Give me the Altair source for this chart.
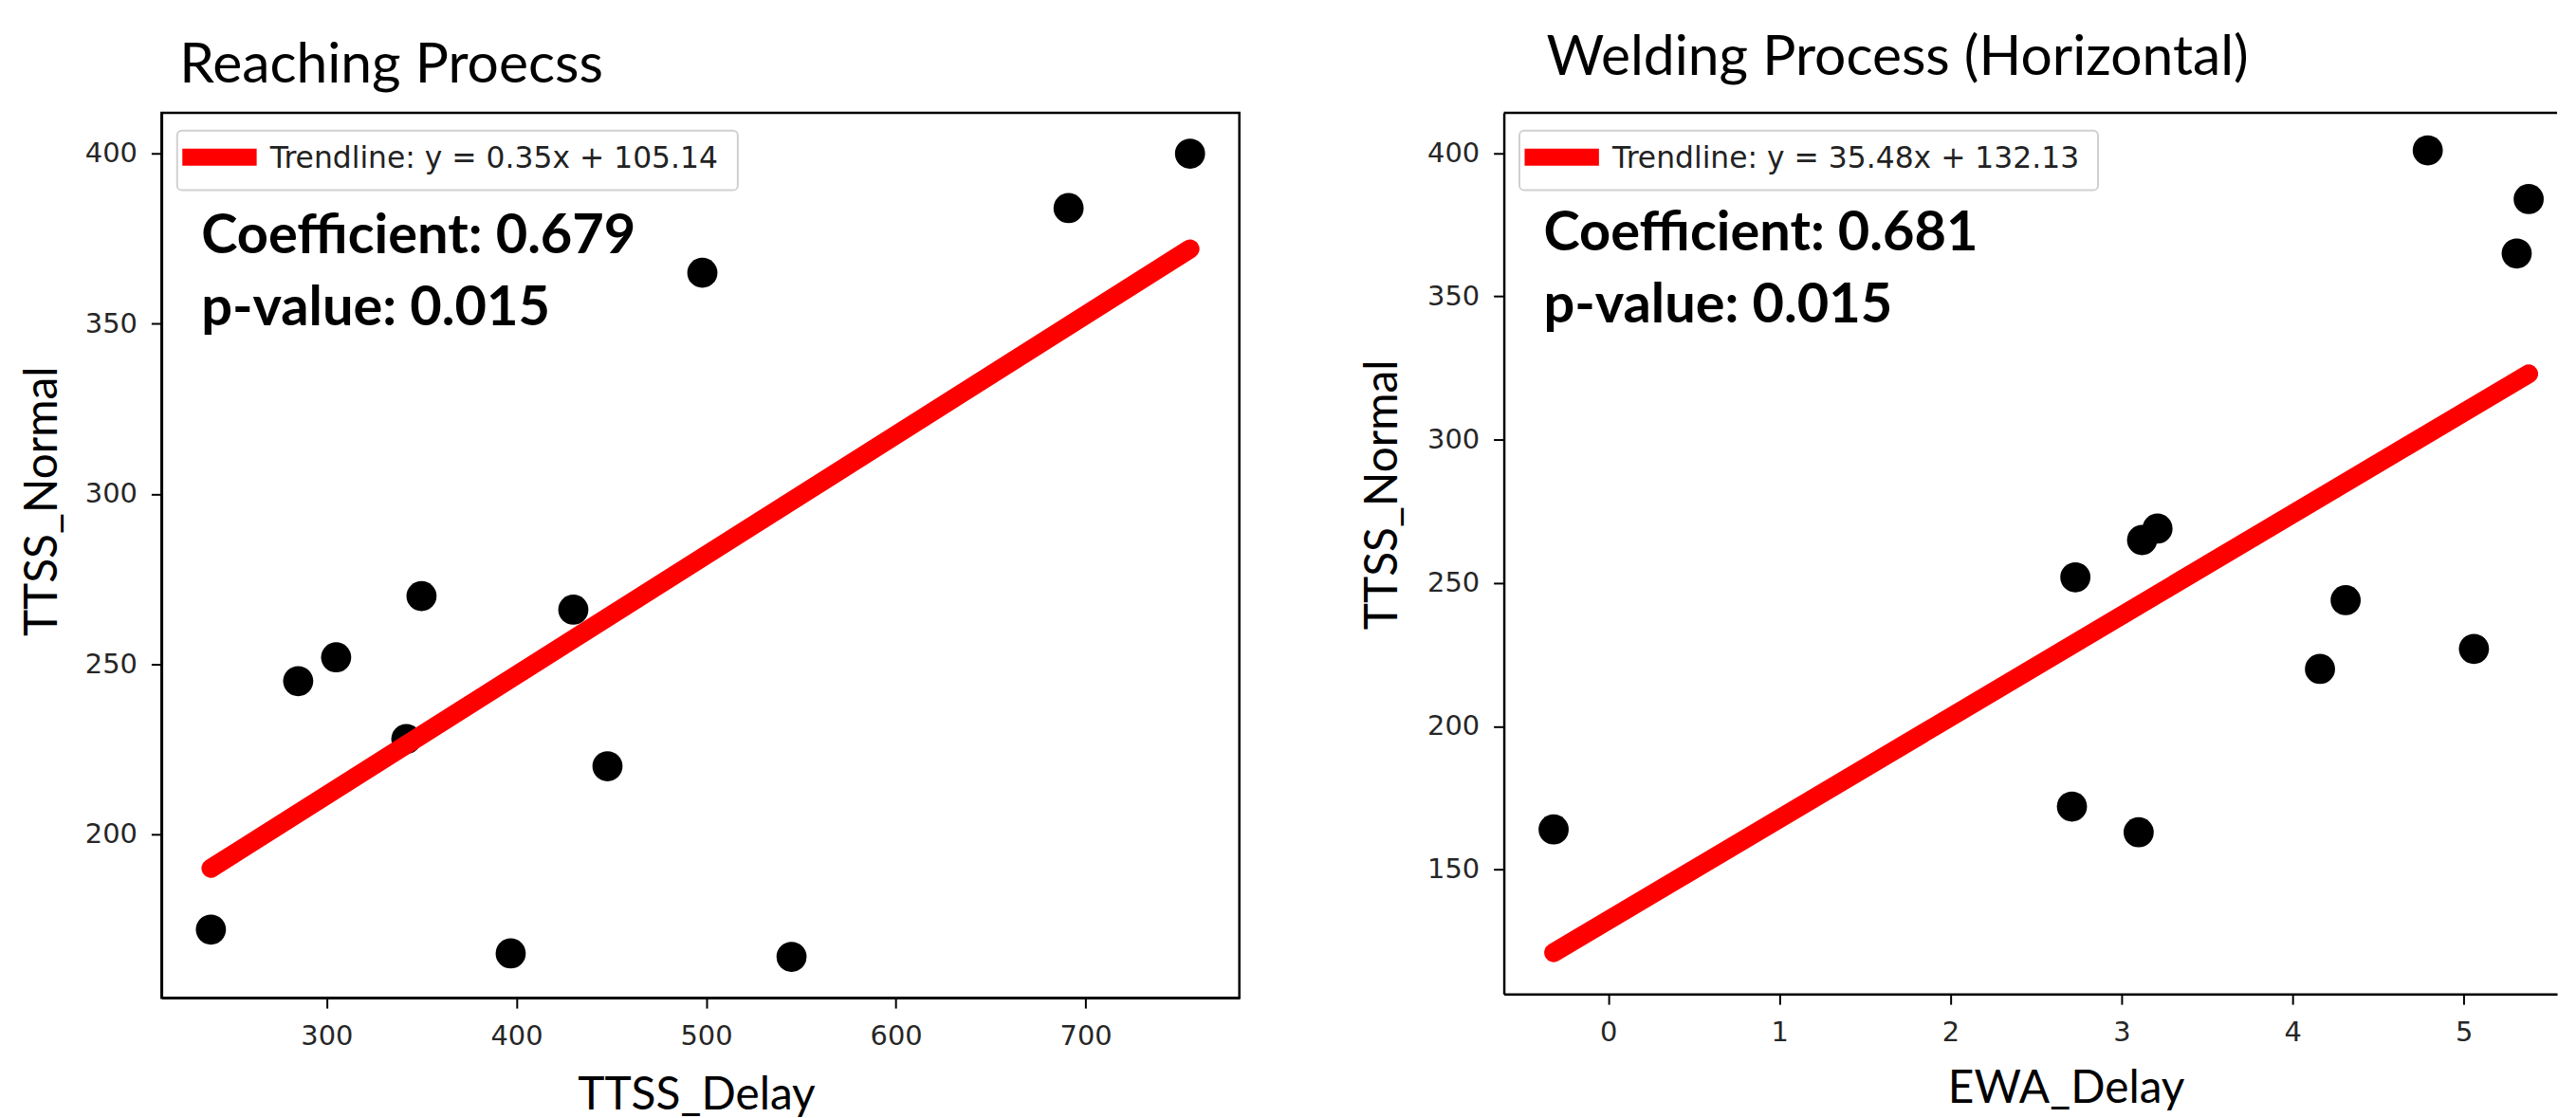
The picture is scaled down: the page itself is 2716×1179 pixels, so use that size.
import altair as alt
import pandas as pd

# ---------------- data ----------------
reach_delay = [239, 285, 305, 342, 350, 397, 430, 448, 498, 545, 691, 755]
reach_normal = [172, 245, 252, 228, 270, 165, 266, 220, 365, 164, 384, 400]
reach_trend_x = [239, 755]
reach_trend_y = [190, 372]

weld_delay = [-0.32, 2.71, 2.73, 3.10, 3.12, 3.21, 4.16, 4.31, 4.79, 5.06, 5.31, 5.38]
weld_normal = [164, 172, 252, 163, 265, 269, 220, 244, 401, 227, 365, 384]
weld_trend_x = [-0.32, 5.38]
weld_trend_y = [121, 323]

reach_title = "Reaching Proecss"
weld_title = "Welding Process (Horizontal)"
reach_x_title = "TTSS_Delay"
weld_x_title = "EWA_Delay"
y_title = "TTSS_Normal"
reach_legend = ["Trendline: y = 0.35x + 105.14"]
weld_legend = ["Trendline: y = 35.48x + 132.13"]
reach_stats = ["Coefficient: 0.679", "p-value: 0.015"]
weld_stats = ["Coefficient: 0.681", "p-value: 0.015"]

reach_xticks = [300, 400, 500, 600, 700]
reach_yticks = [200, 250, 300, 350, 400]
weld_xticks = [0, 1, 2, 3, 4, 5]
weld_yticks = [150, 200, 250, 300, 350, 400]

LINE_W = 2.5


def panel(xs, ys, tx, ty, xdom, ydom, xticks, yticks, title, xtitle, legend,
          stats, W, H, box_w, title_dx, title_offset, xtitle_x, xtitle_pad,
          ytitle_pad, ytitle_y, stats_y, full_frame):
    pts = pd.DataFrame({"x": xs, "y": ys})
    trend = pd.DataFrame({"x": tx, "y": ty})
    leg = pd.DataFrame({"label": legend})
    st = pd.DataFrame({"label": ["\n".join(stats)]})

    xscale = alt.Scale(domain=xdom, nice=False, zero=False)
    yscale = alt.Scale(domain=ydom, nice=False, zero=False)
    xaxis = alt.Axis(values=xticks, title=xtitle, format="d", titleX=xtitle_x,
                     titleAnchor="start", titleAlign="center",
                     titlePadding=xtitle_pad, labelPadding=16)
    yaxis = alt.Axis(values=yticks, title=y_title, format="d", titleY=ytitle_y,
                     titleAlign="center",
                     titlePadding=ytitle_pad, labelPadding=15)

    points = alt.Chart(pts).mark_circle(size=1018, color="black", opacity=1).encode(
        x=alt.X("x:Q", scale=xscale, axis=xaxis),
        y=alt.Y("y:Q", scale=yscale, axis=yaxis),
    )
    line = alt.Chart(trend).mark_line(color="#ff0000", strokeWidth=20,
                                      strokeCap="round").encode(
        x=alt.X("x:Q"), y=alt.Y("y:Q"))

    box = alt.Chart(leg).mark_rect(fill="white", stroke="#d0d0d0", strokeWidth=2,
                                   cornerRadius=5).encode(
        x=alt.value(16.5), x2=alt.value(box_w), y=alt.value(19), y2=alt.value(82))
    patch = alt.Chart(leg).mark_rect(fill="#ff0000").encode(
        x=alt.value(22), x2=alt.value(100.7), y=alt.value(38), y2=alt.value(56))
    ltext = alt.Chart(leg).mark_text(align="left", baseline="alphabetic",
                                     font="DejaVu Sans", fontSize=31.5,
                                     color="#222222").encode(
        x=alt.value(115), y=alt.value(58), text="label:N")
    stext = alt.Chart(st).mark_text(align="left", baseline="alphabetic",
                                    font="Lato", fontSize=58, fontWeight="bold",
                                    color="black", lineBreak="\n",
                                    lineHeight=76).encode(
        x=alt.value(42), y=alt.value(stats_y), text="label:N")

    layers = [points, line, box, patch, ltext, stext]
    if not full_frame:
        top = alt.Chart(leg).mark_rule(color="black", strokeWidth=LINE_W).encode(
            x=alt.value(0), x2=alt.value(W), y=alt.value(0))
        layers.append(top)

    view = alt.ViewBackground(stroke="black" if full_frame else "transparent",
                              strokeWidth=LINE_W)
    return alt.layer(*layers).properties(
        width=W, height=H, view=view,
        title=alt.TitleParams(title, anchor="start", frame="group", font="Lato",
                              fontSize=59, fontWeight="normal", color="black",
                              baseline="alphabetic", dx=title_dx,
                              offset=title_offset),
    )


left = panel(reach_delay, reach_normal, reach_trend_x, reach_trend_y,
             [213, 781], [152, 412], reach_xticks, reach_yticks, reach_title,
             reach_x_title, reach_legend, reach_stats, 1141, 937, 610, 19, -27,
             566, 24, 20, 411, 149, True)
right = panel(weld_delay, weld_normal, weld_trend_x, weld_trend_y,
              [-0.611, 5.546], [106.6, 414.1], weld_xticks, weld_yticks, weld_title,
              weld_x_title, weld_legend, weld_stats, 1115, 933, 629, 45, -20,
              595, 21, 22, 404, 146, False)

chart = alt.hconcat(left, right, spacing=125).properties(
    padding={"left": 12, "top": 20, "right": 0, "bottom": 0},
    background="white",
).configure_axis(
    labelFont="DejaVu Sans", labelFontSize=29, labelColor="#262626",
    tickColor="black", tickSize=11, tickWidth=2, grid=False,
    domainColor="black", domainWidth=LINE_W,
    titleFont="Lato", titleFontSize=48, titleFontWeight="normal", titleColor="black",
)

chart.save("out.html", embed_options={"renderer": "svg", "actions": False})
